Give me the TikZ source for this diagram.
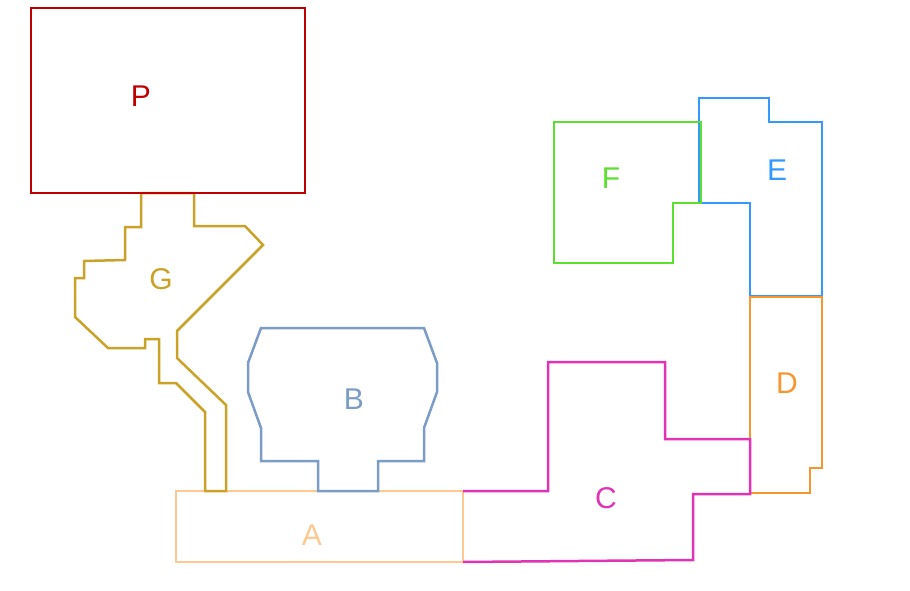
\documentclass[tikz,border=0pt]{standalone}
\usepackage{fontspec}
\setmainfont{Liberation Sans}
\usepackage{tikz}
\usetikzlibrary{calc,positioning}

\definecolor{colP}{HTML}{C00000}
\definecolor{colG}{HTML}{C9A227}
\definecolor{colA}{HTML}{FFC891}
\definecolor{colB}{HTML}{7A9CC6}
\definecolor{colC}{HTML}{E033B5}
\definecolor{colD}{HTML}{F7962F}
\definecolor{colE}{HTML}{3399FF}
\definecolor{colF}{HTML}{5BE030}

\tikzset{
	room/.style={line width=2.5pt, line join=miter},
	tag/.style={font=\fontsize{30}{32}\selectfont}
}

\begin{document}
\begin{tikzpicture}[x=1pt, y=-1pt]
	\useasboundingbox (0,0) rectangle (910,591);

	% rooms
	\draw[room, colA] (176,491) rectangle (463,562);
	\draw[room, colG] (141,193) -- (141,227) -- (125,227) -- (125,260) -- (84,261) -- (84,278) -- (75,278) -- (75,317) -- (108,348) -- (145,348) -- (145,339) -- (159,339) -- (159,383) -- (176,383) -- (205,412) -- (205,491) -- (226,491) -- (226,405) -- (177,358) -- (177,331) -- (263,245) -- (245,226) -- (194,226) -- (194,193) -- cycle;
	\draw[room, colP] (31,8) rectangle (305,193);
	\draw[room, colB] (261,328) -- (424,328) -- (437,363) -- (437,392) -- (424,428) -- (424,461) -- (378,461) -- (378,491) -- (318,491) -- (318,461) -- (261,461) -- (261,428) -- (248,392) -- (248,363) -- cycle;
	\draw[room, colE] (699,98) -- (769,98) -- (769,122) -- (822,122) -- (822,296) -- (750,296) -- (750,203) -- (699,203) -- cycle;
	\draw[room, colD] (750,297) -- (822,297) -- (822,468) -- (810,468) -- (810,493) -- (750,493) -- cycle;
	\draw[room, colC] (463,491) -- (548,491) -- (548,362) -- (665,362) -- (665,439) -- (750,439) -- (750,494) -- (693,494) -- (693,560) -- (463,562);
	\draw[room, colF] (554,122) -- (701,122) -- (701,203) -- (673,203) -- (673,263) -- (554,263) -- cycle;

	% labels
	\node[tag, colP] (p) at (141,96) {P};
	\node[tag, colG] (g) at (161,279) {G};
	\node[tag, colB] (b) at (354,399) {B};
	\node[tag, colA] (a) at (312,535) {A};
	\node[tag, colC] (c) at (606,498) {C};
	\node[tag, colD] (d) at (787,383) {D};
	\node[tag, colE] (e) at (777,170) {E};
	\node[tag, colF] (f) at (611,178) {F};
\end{tikzpicture}
\end{document}
